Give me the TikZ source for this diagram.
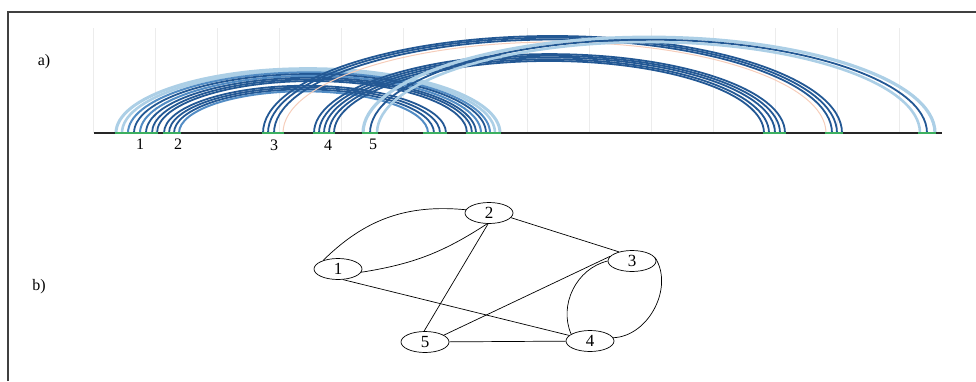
\documentclass[tikz,border=0pt]{standalone}
\usepackage{fontspec}
\setmainfont{Liberation Serif}
\usetikzlibrary{shapes.geometric}

\definecolor{arcdark}{RGB}{35,88,148}
\definecolor{arcmid}{RGB}{82,140,196}
\definecolor{arclight}{RGB}{172,207,230}
\definecolor{arcorange}{RGB}{246,205,186}
\definecolor{footgreen}{RGB}{60,175,95}
\definecolor{gridgray}{RGB}{236,236,236}

\begin{document}
\begin{tikzpicture}[x=1pt,y=1pt,
  vert/.style={draw,ellipse,minimum width=48pt,minimum height=21pt,inner sep=0pt,line width=0.7pt,
    font=\fontsize{17}{17}\selectfont},
  edge/.style={line width=0.7pt},
  tag/.style={font=\fontsize{16}{16}\selectfont},
  poslabel/.style={font=\fontsize{16}{16}\selectfont}]
\useasboundingbox (0,0) rectangle (976,381);
% frame
\draw[line width=1.2pt,black!75] (8,0) -- (8,369) -- (976,369);
\node[tag] (a) at (44,319) {a)};
\node[tag] (b) at (39,94) {b)};

% a) arc plot
\foreach \gx in {0,...,13}
  \draw[gridgray,line width=0.8pt] ({93+62*\gx},248) -- ({93+62*\gx},353);
\foreach \l/\r/\c/\w in {116/500/arclight/3.0,122/495/arclight/2.6,128/490/arcmid/2.0,134/486/arcdark/1.8,
    140/481/arcmid/2.0,146/476/arcdark/1.8,152/472/arcdark/1.8,157/467/arcdark/1.8,
    164/446/arcdark/1.8,169/440/arcdark/1.8,174/434/arcdark/1.8,179/428/arcmid/2.0,
    314/785/arcdark/1.8,319/780/arcdark/1.8,324/775/arcdark/1.8,329/769/arcdark/1.8,334/764/arcdark/1.8,
    283/826/arcorange/1.0,263/842/arcdark/1.8,268/837/arcdark/1.8,274/832/arcdark/1.8,
    363/935/arclight/3.2,370/927/arcdark/1.8,377/920/arclight/2.6}
  \draw[\c,line width=\w pt] (\l,248) arc[start angle=180,end angle=0,x radius={(\r-\l)/2},y radius={0.335*(\r-\l)/2}];
\draw[black!85,line width=1.4pt] (94,248) -- (942,248);
\foreach \fa/\fb in {115/158,163/181,262/284,313/335,362/378,423/447,466/501,763/786,825/843,918/936}
  \draw[footgreen,line width=1.4pt] (\fa,248) -- (\fb,248);
\node[poslabel] (p1) at (140,237) {1};
\node[poslabel] (p2) at (178,237) {2};
\node[poslabel] (p3) at (274,236) {3};
\node[poslabel] (p4) at (328,236) {4};
\node[poslabel] (p5) at (373,237) {5};

% b) graph
\node[vert] (n1) at (338,112) {1};
\node[vert] (n2) at (489,168) {2};
\node[vert] (n3) at (632,120) {3};
\node[vert] (n4) at (590,40) {4};
\node[vert] (n5) at (425,39) {5};
\draw[edge] (n1.150) to[bend left=25] (n2.172);
\draw[edge] (n1.-8) to[bend right=12] (n2.-100);
\draw[edge] (n2.-95) -- (n5.95);
\draw[edge] (n2.-12) -- (n3.145);
\draw[edge] (n3.168) -- (n5.20);
\draw[edge] (n1.-65) -- (n4.165);
\draw[edge] (n5) -- (n4);
\draw[edge] (n3.180) to[bend right=50] (n4.160);
\draw[edge] (n3.8) to[bend left=60] (n4.8);
\end{tikzpicture}
\end{document}
